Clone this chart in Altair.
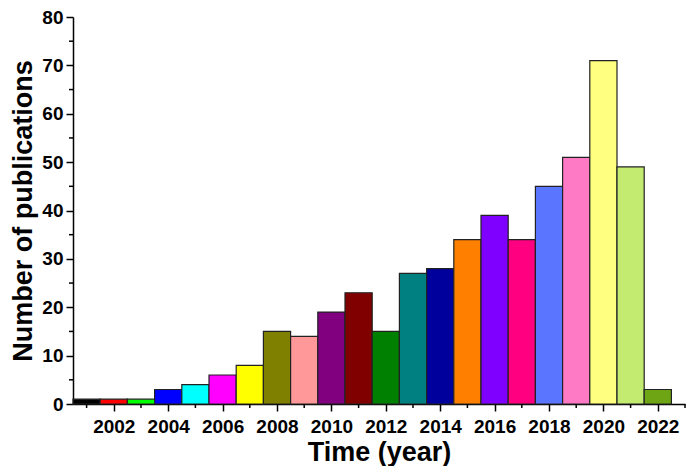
import altair as alt
import pandas as pd

years = list(range(2001, 2023))
counts = [1, 1, 1, 3, 4, 6, 8, 15, 14, 19, 23, 15, 27, 28, 34, 39, 34, 45, 51, 71, 49, 3]
colors = ["#000000", "#FF0000", "#00FF00", "#0000FF", "#00FFFF", "#FF00FF",
          "#FFFF00", "#808000", "#FF9999", "#800080", "#800000", "#008000",
          "#008080", "#00009C", "#FF8000", "#8000FF", "#FF0080", "#5A75FF",
          "#FF7AC4", "#FFFF80", "#C2EB70", "#6EA514"]
major_x = list(range(2002, 2023, 2))
minor_x = list(range(2001, 2024, 2))
minor_y = list(range(5, 80, 10))

df = pd.DataFrame({"year": years, "count": counts, "color": colors})
W, H = 612, 387
FONT = "Liberation Sans"

xs = alt.Scale(domain=[2000.5, 2023], nice=False, zero=False, padding=0)
ys = alt.Scale(domain=[0, 80], nice=False, padding=0)

bars = alt.Chart(df).transform_calculate(
    x0="datum.year - 0.5", x1="datum.year + 0.5", base="0"
).mark_bar(stroke="#222222", strokeWidth=1.2, orient="vertical").encode(
    x=alt.X("x0:Q", scale=xs, axis=alt.Axis(
        values=major_x, format="d", title="Time (year)", grid=False,
        tickSize=7, tickWidth=1.5, domainWidth=1.5, domainColor="black", tickColor="black",
        labelFont=FONT, labelFontSize=19, labelFontWeight="bold", labelColor="black",
        labelPadding=6, titleFont=FONT, titleFontSize=27, titleFontWeight="bold",
        titleColor="black", titlePadding=3, labelFlush=False)),
    x2="x1:Q",
    y=alt.Y("count:Q", scale=ys, axis=alt.Axis(
        values=list(range(0, 81, 10)), title="Number of publications", grid=False,
        tickSize=7, tickWidth=1.5, domainWidth=1.5, domainColor="black", tickColor="black",
        labelFont=FONT, labelFontSize=19, labelFontWeight="bold", labelColor="black",
        labelPadding=3, titleFont=FONT, titleFontSize=27, titleFontWeight="bold",
        titleColor="black", titlePadding=4)),
    y2="base:Q",
    color=alt.Color("color:N", scale=None),
)

mx = alt.Chart(pd.DataFrame({"v": minor_x})).mark_rule(color="black", strokeWidth=1.5).encode(
    x=alt.X("v:Q", scale=xs), y=alt.value(H), y2=alt.value(H + 4))
my = alt.Chart(pd.DataFrame({"v": minor_y})).mark_rule(color="black", strokeWidth=1.5).encode(
    y=alt.Y("v:Q", scale=ys), x=alt.value(0), x2=alt.value(-4))

chart = alt.layer(bars, mx, my).properties(
    width=W, height=H,
    autosize=alt.AutoSizeParams(type="none"),
    padding={"left": 65, "top": 9, "right": 1, "bottom": 62},
).configure_view(stroke=None)

chart.save("out.html", embed_options={"renderer": "svg", "actions": False})
